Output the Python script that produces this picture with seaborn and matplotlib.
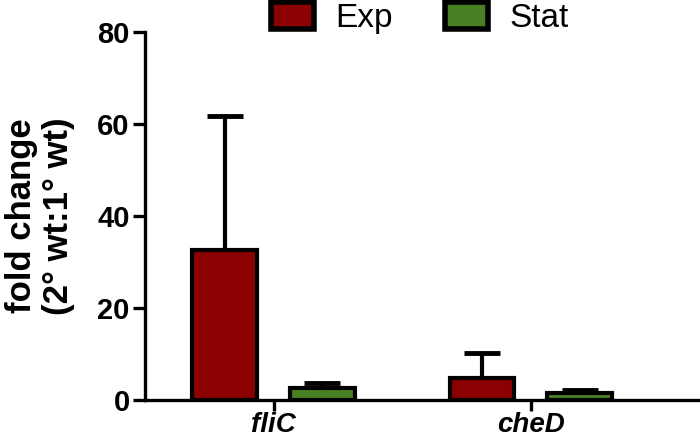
import numpy as np
import pandas as pd
import matplotlib
matplotlib.use("Agg")
import matplotlib.pyplot as plt
import seaborn as sns

genes = ["fliC", "cheD"]
phases = ["Exp", "Stat"]
exp_mean = [32.6, 4.8]
exp_err = [29.2, 5.4]
stat_mean = [2.6, 1.6]
stat_err = [1.1, 0.5]

df = pd.DataFrame({
    "gene": genes * 2,
    "phase": ["Exp"] * 2 + ["Stat"] * 2,
    "fold": exp_mean + stat_mean,
    "err": exp_err + stat_err,
})

sns.set_style("ticks")
plt.rcParams["font.family"] = ["Liberation Sans", "DejaVu Sans"]
plt.rcParams["text.color"] = "black"
plt.rcParams["axes.labelcolor"] = "black"
plt.rcParams["xtick.color"] = "black"
plt.rcParams["ytick.color"] = "black"
plt.rcParams["axes.edgecolor"] = "black"

fig = plt.figure(figsize=(7, 4.42), dpi=100)
ax = fig.add_axes([145 / 700, 42 / 442, 553 / 700, 368 / 442])

sns.barplot(data=df, x="gene", y="fold", hue="phase", order=genes, hue_order=phases,
            palette={"Exp": "#8b0000", "Stat": "#4a8024"}, saturation=1, width=0.76, gap=0.34,
            edgecolor="black", linewidth=3, errorbar=None, ax=ax, zorder=2)

# upper error bars only
for bars, ph in zip(ax.containers, phases):
    sub = df[df.phase == ph].set_index("gene").loc[genes]
    xs = [b.get_x() + b.get_width() / 2 for b in bars]
    eb = ax.errorbar(xs, sub["fold"], yerr=[np.zeros(len(xs)), sub["err"]], fmt="none",
                     ecolor="black", elinewidth=3, capsize=13, capthick=3.5, zorder=1)
    eb[1][0].set_visible(False)

ax.set_xlim(-0.5, 1.65)
ax.set_ylim(0, 80)
ax.set_yticks([0, 20, 40, 60, 80])
ax.set_xlabel("")
ax.set_ylabel("fold change\n(2° wt:1° wt)", fontsize=25, fontweight="bold", labelpad=16,
              linespacing=1.15)
sns.despine(ax=ax)
for s in ["left", "bottom"]:
    ax.spines[s].set_linewidth(2.4)
ax.tick_params(axis="y", length=9, width=2.4, labelsize=21, pad=2)
ax.tick_params(axis="x", length=8, width=2.4, labelsize=20, pad=1)
for t in ax.get_yticklabels():
    t.set_fontweight("bold")
for t in ax.get_xticklabels():
    t.set_fontweight("bold")
    t.set_fontstyle("italic")

leg = ax.legend(loc="center", bbox_to_anchor=(0.497, 1.037), ncol=2, frameon=False,
                fontsize=24, handlelength=1.3, handleheight=0.85, columnspacing=1.55,
                handletextpad=0.64, borderaxespad=0, borderpad=0)
for h in leg.legend_handles:
    h.set_linewidth(4)
    h.set_edgecolor("black")

fig.savefig("out.png", dpi=100)
